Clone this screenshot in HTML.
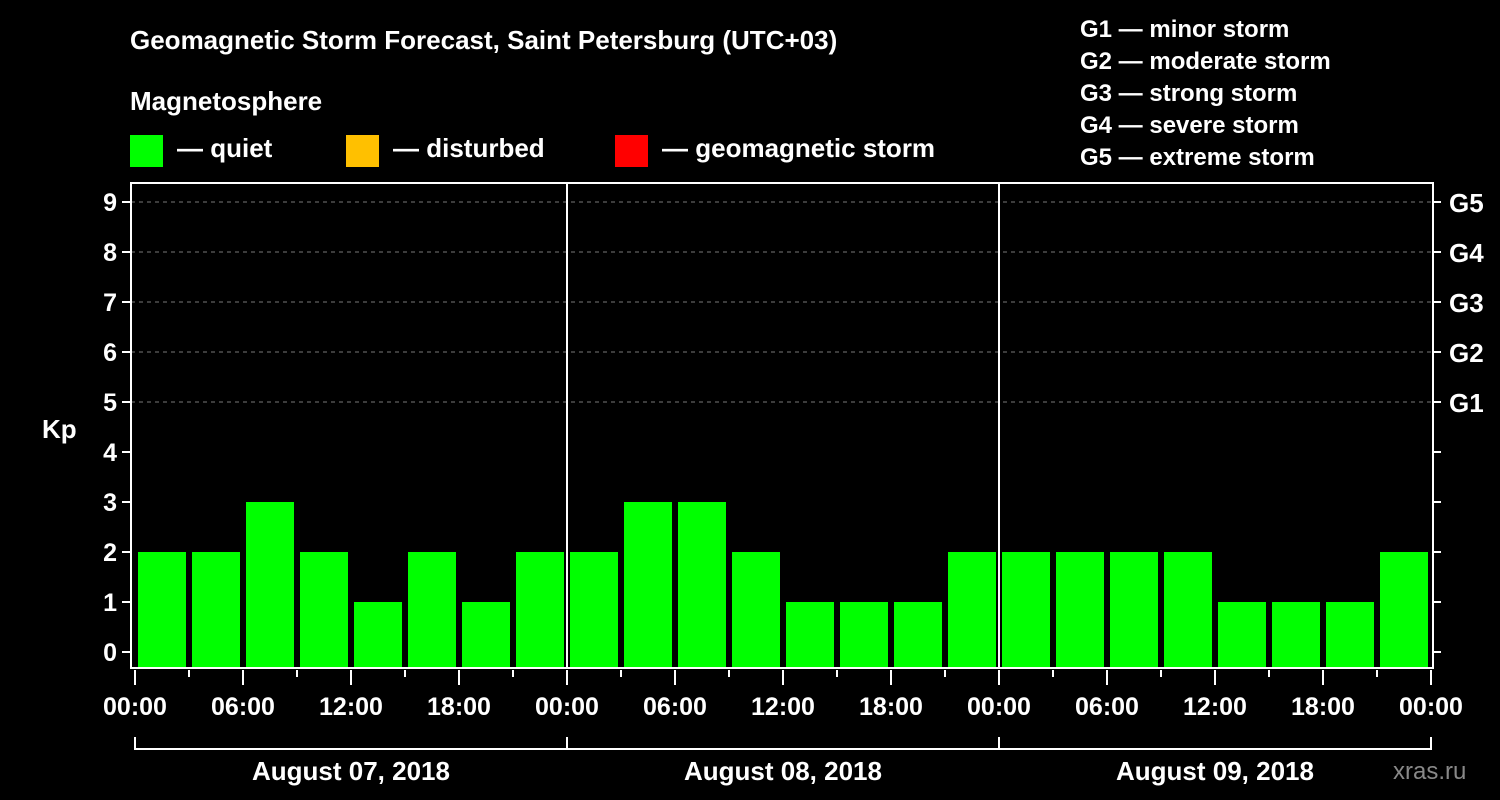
<!DOCTYPE html>
<html><head><meta charset="utf-8"><style>
html,body{margin:0;padding:0;background:#000;}
svg{display:block;font-family:"Liberation Sans",sans-serif;font-weight:bold;}
</style></head><body>
<svg id="chart" width="1500" height="800" viewBox="0 0 1500 800" xmlns="http://www.w3.org/2000/svg">
<rect width="1500" height="800" fill="#000"/>
<text x="130" y="49" fill="#fff" font-size="26">Geomagnetic Storm Forecast, Saint Petersburg (UTC+03)</text>
<text x="130" y="110" fill="#fff" font-size="26">Magnetosphere</text>
<g><rect x="130" y="135" width="33" height="32" fill="#00ff00"/><text x="177" y="157" fill="#fff" font-size="26">— quiet</text></g>
<g><rect x="346" y="135" width="33" height="32" fill="#ffc000"/><text x="393" y="157" fill="#fff" font-size="26">— disturbed</text></g>
<g><rect x="615" y="135" width="33" height="32" fill="#ff0000"/><text x="662" y="157" fill="#fff" font-size="26">— geomagnetic storm</text></g>
<g fill="#fff" font-size="24">
<text x="1080" y="37">G1 — minor storm</text>
<text x="1080" y="69">G2 — moderate storm</text>
<text x="1080" y="101">G3 — strong storm</text>
<text x="1080" y="133">G4 — severe storm</text>
<text x="1080" y="165">G5 — extreme storm</text>
</g>
<text x="42" y="438" fill="#fff" font-size="26">Kp</text>
<text x="1393" y="779" fill="#888" font-size="24" font-weight="normal">xras.ru</text>
<g id="grid"></g><g id="bars"></g><g id="axes"></g>
</svg>
<script>
const kp = [2,2,3,2,1,2,1,2, 2,3,3,2,1,1,1,2, 2,2,2,2,1,1,1,2];
const yTicks = [0,1,2,3,4,5,6,7,8,9];
const gLabels = ["G1","G2","G3","G4","G5"];
const gLevels = [5,6,7,8,9];
const hourLabels = ["00:00","06:00","12:00","18:00"];
const days = ["August 07, 2018","August 08, 2018","August 09, 2018"];

const NS="http://www.w3.org/2000/svg";
const X0=135, SLOT=54, Y0=652, UNIT=50;
const PL=131, PR=1433, PT=183, PB=668;
function xs(i){return X0+i*SLOT;}
function ys(v){return Y0-v*UNIT;}
function mk(tag,parent,attrs){const e=document.createElementNS(NS,tag);for(const k in attrs)e.setAttribute(k,attrs[k]);parent.appendChild(e);return e;}
function color(v){return v>=5?"#ff0000":(v>=4?"#ffc000":"#00ff00");}
const grid=document.getElementById("grid"),bars=document.getElementById("bars"),axes=document.getElementById("axes");

gLevels.forEach(v=>{
  const l=mk("line",grid,{x1:PL,x2:PR,y1:ys(v),y2:ys(v),stroke:"#777","stroke-dasharray":"4,4","stroke-width":1});
  
  
});
kp.forEach((v,i)=>{
  const r=mk("rect",bars,{x:xs(i)+3,y:ys(v),width:SLOT-6,height:PB-ys(v),fill:color(v)});
  
  
});
for(let d=1;d<days.length;d++){
  const l=mk("line",axes,{x1:xs(d*8),x2:xs(d*8),y1:PT,y2:PB,stroke:"#fff","stroke-width":2});
  
  
}
const frame=mk("rect",axes,{x:PL,y:PT,width:PR-PL,height:PB-PT,fill:"none",stroke:"#fff","stroke-width":2});


yTicks.forEach(v=>{
  mk("line",axes,{x1:PL-9,x2:PL,y1:ys(v),y2:ys(v),stroke:"#fff","stroke-width":2});
  mk("line",axes,{x1:PR,x2:PR+8,y1:ys(v),y2:ys(v),stroke:"#fff","stroke-width":2});
  const t=mk("text",axes,{x:PL-14,y:ys(v)+9,fill:"#fff","font-size":25,"text-anchor":"end"});
  t.textContent=v;
  
  
});
gLevels.forEach((v,i)=>{
  const t=mk("text",axes,{x:1449,y:ys(v)+10,fill:"#fff","font-size":26});
  t.textContent=gLabels[i];
  
  
});
for(let i=0;i<=kp.length;i++){
  const major=i%2===0;
  mk("line",axes,{x1:xs(i),x2:xs(i),y1:PB+2,y2:major?PB+17:PB+9,stroke:"#fff","stroke-width":2});
  if(major){
    const t=mk("text",axes,{x:xs(i),y:715,fill:"#fff","font-size":25,"text-anchor":"middle"});
    t.textContent=hourLabels[(i/2)%4];
    
    
  }
}
days.forEach((d,k)=>{
  const a=xs(k*8),b=xs((k+1)*8);
  mk("path",axes,{d:`M${a} 737V749H${b}V737`,fill:"none",stroke:"#fff","stroke-width":2});
  const t=mk("text",axes,{x:(a+b)/2,y:780,fill:"#fff","font-size":26,"text-anchor":"middle"});
  t.textContent=d;
  
  
});
</script>
</body></html>
